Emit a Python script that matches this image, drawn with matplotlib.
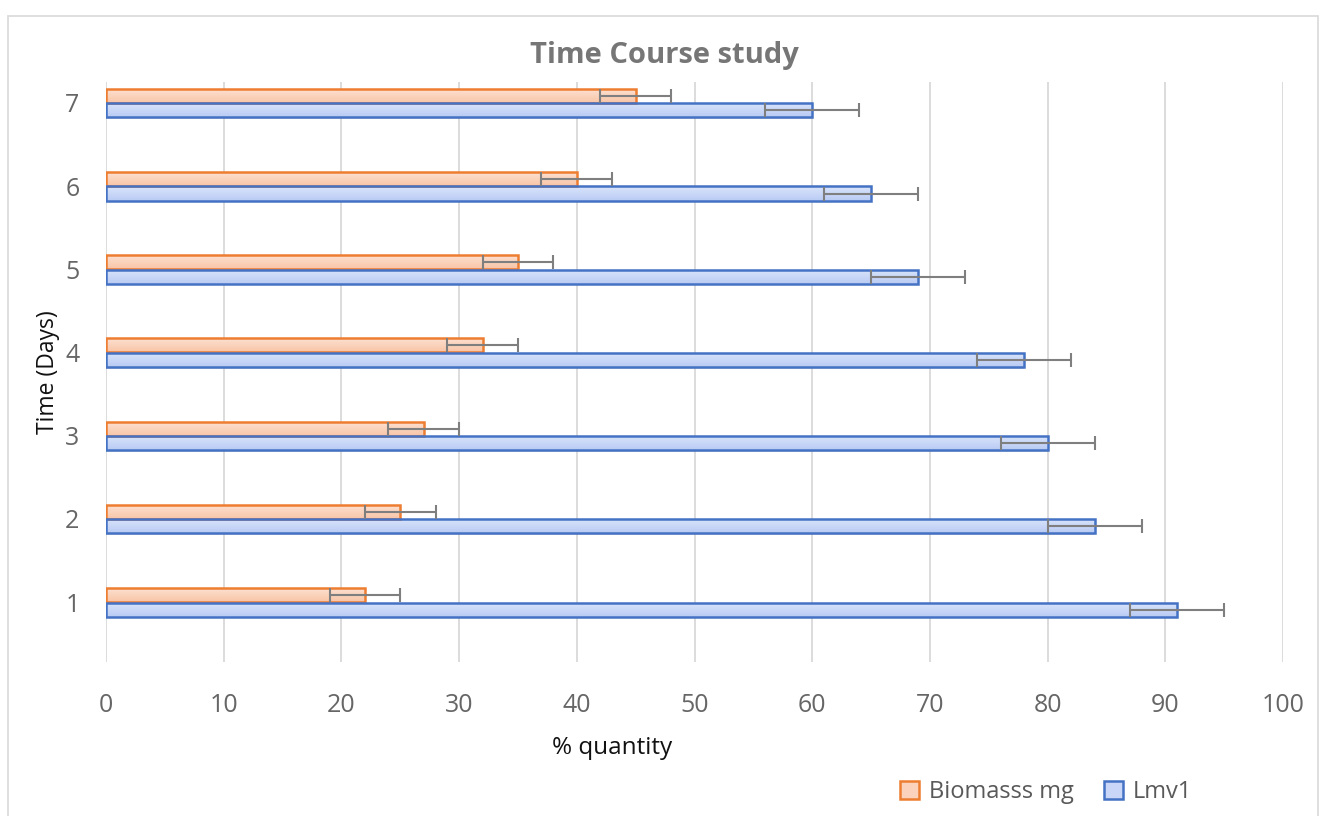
import matplotlib
matplotlib.use("Agg")
import matplotlib.pyplot as plt
import numpy as np
from matplotlib.patches import Rectangle

plt.rcParams['font.family'] = ['Open Sans', 'DejaVu Sans']

days = [1, 2, 3, 4, 5, 6, 7]
biomass = [22, 25, 27, 32, 35, 40, 45]
biomass_err = [3, 3, 3, 3, 3, 3, 3]
lmv1 = [91, 84, 80, 78, 69, 65, 60]
lmv1_err = [4, 4, 4, 4, 4, 4, 4]

gray_txt = '#595959'
orange_edge = '#ed7d31'
blue_edge = '#4472c4'

fig = plt.figure(figsize=(13.28, 8.16), dpi=100)
ax = fig.add_axes([106/1328, 154/816, 1177/1328, 580/816])

# outer chart border
fig.patches.append(Rectangle((8/1328, -0.01), 1310/1328, 800/816 + 0.01,
                             transform=fig.transFigure, fill=False,
                             edgecolor='#d9d9d9', linewidth=1.2))

h = 0.17
y = np.array(days, dtype=float)
y_or = y + 0.085
y_bl = y - 0.09


def gradient_bars(bars, c_top, c_bot):
    # vertical gradient fill clipped to each bar
    grad = np.linspace(0, 1, 64).reshape(-1, 1)
    top = np.array(matplotlib.colors.to_rgb(c_top))
    bot = np.array(matplotlib.colors.to_rgb(c_bot))
    img = top + (bot - top) * grad[:, :, None] * np.ones((1, 1, 3))
    for b in bars:
        x0, y0 = b.get_x(), b.get_y()
        w, hh = b.get_width(), b.get_height()
        im = ax.imshow(img, extent=(x0, x0 + w, y0, y0 + hh), origin='lower',
                       aspect='auto', zorder=2, interpolation='bilinear')
        im.set_clip_path(b)


# soft shadows under bars
ax.barh(y_or - 0.02, biomass, height=h, color='#000000', alpha=0.08, zorder=1.5)
ax.barh(y_bl - 0.02, lmv1, height=h, color='#000000', alpha=0.12, zorder=1.5)

b1 = ax.barh(y_or, biomass, height=h, facecolor='#fbd3bd', edgecolor=orange_edge,
             linewidth=1.8, zorder=2, label='Biomasss mg')
b2 = ax.barh(y_bl, lmv1, height=h, facecolor='#c9d6f7', edgecolor=blue_edge,
             linewidth=1.8, zorder=2, label='Lmv1')
gradient_bars(b1, '#f8c4a6', '#fde3d4')
gradient_bars(b2, '#b9cbf4', '#dbe5fb')
for b in list(b1) + list(b2):
    b.set_zorder(3)
    b.set_facecolor('none')

ax.errorbar(biomass, y_or, xerr=biomass_err, fmt='none', ecolor='#7f7f7f',
            elinewidth=1.5, capsize=5, capthick=1.5, zorder=4)
ax.errorbar(lmv1, y_bl, xerr=lmv1_err, fmt='none', ecolor='#7f7f7f',
            elinewidth=1.5, capsize=5, capthick=1.5, zorder=4)

ax.set_xlim(0, 100)
ax.set_ylim(0.28, 7.25)
ax.set_xticks(np.arange(0, 101, 10))
ax.set_yticks(days)
ax.tick_params(axis='both', length=0, labelsize=18, labelcolor='#666666')
ax.tick_params(axis='x', pad=22)
ax.tick_params(axis='y', pad=19)
ax.grid(axis='x', color='#d9d9d9', linewidth=1.3, zorder=0)
ax.set_axisbelow(True)
for s in ax.spines.values():
    s.set_visible(False)

fig.text(664/1328, 1 - 55/816, 'Time Course study', fontsize=21, fontweight='bold',
         color='#767676', ha='center', va='center')
ax.set_xlabel('% quantity', fontsize=17.5, color='#111111')
ax.xaxis.set_label_coords((612 - 106)/1177, -(748 - 662)/580)
ax.xaxis.label.set_va('center')
ax.set_ylabel('Time (Days)', fontsize=16.5, color='#111111', labelpad=4)

leg = fig.legend(handles=[b1, b2], loc='center', bbox_to_anchor=(1046/1328, 24/816),
                 ncol=2, frameon=False, fontsize=17, handlelength=0.8, handleheight=0.8,
                 columnspacing=1.3, handletextpad=0.4, labelcolor=gray_txt)
for p, c, f in zip(leg.get_patches(), [orange_edge, blue_edge], ['#fbd3bd', '#c9d6f7']):
    p.set_facecolor(f)
    p.set_edgecolor(c)

fig.savefig('out.png', dpi=100)
